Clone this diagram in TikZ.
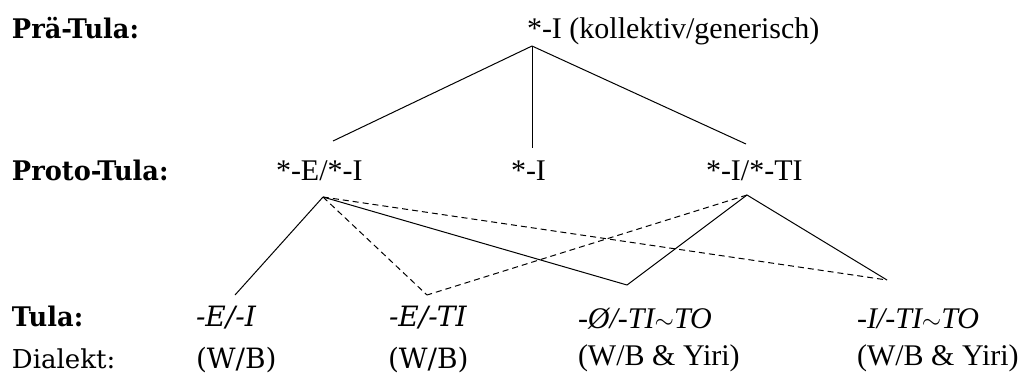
\documentclass[tikz,border=0pt]{standalone}
\usepackage{fontspec}
\setmainfont{Liberation Serif}
\newfontfamily\chfont[FakeStretch=0.95]{DejaVu Serif}
\newfontfamily\chwfont{DejaVu Serif}
\begin{document}
\begin{tikzpicture}[x=1pt,y=-1pt,
  lab/.style={anchor=base west, inner sep=0pt, outer sep=0pt},
  chlab/.style={lab, font=\chwfont\fontsize{26}{30}\selectfont},
  chpar/.style={lab, font=\chwfont\fontsize{28}{32}\selectfont},
  chbold/.style={lab, font=\chfont\bfseries\fontsize{27}{30}\selectfont},
  tmlab/.style={lab, font=\fontsize{30}{34}\selectfont},
  tmit/.style={lab, font=\itshape\fontsize{30}{34}\selectfont},
  chit/.style={lab, font=\chwfont\itshape\fontsize{28}{32}\selectfont},
  solidln/.style={line width=1pt},
  dashln/.style={line width=1pt, dash pattern=on 6pt off 4pt}]
\useasboundingbox (0,0) rectangle (1030,376);
% row labels
\node[chbold] (l1) at (12,38) {Prä-Tula:};
\node[chbold] (l2) at (12,180) {Proto-Tula:};
\node[chbold] (l3) at (12,326) {Tula:};
\node[chlab]  (l4) at (12,368) {Dialekt:};
% level 1
\node[tmlab] (pre) at (527,38) {*-I (kollektiv/generisch)};
% level 2
\node[tmlab] (pa) at (276,180) {*-E/*-I};
\node[tmlab] (pb) at (511,180) {*-I};
\node[tmlab] (pc) at (706,180) {*-I/*-TI};
% level 3
\node[chit] (ta) at (196,326) {-E/-I};
\node[chit] (tb) at (389,326) {-E/-TI};
\node[tmit] (tc) at (578,328) {-Ø/-TI$\sim$TO};
\node[tmit] (td) at (857,328) {-I/-TI$\sim$TO};
% dialects
\node[chpar] (da) at (196,368) {(W/B)};
\node[chpar] (db) at (388,368) {(W/B)};
\node[tmlab] (dc) at (578,365) {(W/B \& Yiri)};
\node[tmlab] (dd) at (857,365) {(W/B \& Yiri)};
% connector points
\coordinate (top) at (532,46);
\coordinate (a1) at (333,141);
\coordinate (b1) at (532,148);
\coordinate (c1) at (746,144);
\coordinate (a2) at (323,197);
\coordinate (c2) at (747,195);
\coordinate (ta1) at (235,295);
\coordinate (tb1) at (427,295);
\coordinate (tc1) at (627,285);
\coordinate (td1) at (887,280);
% upper tree
\draw[solidln] (top) -- (a1);
\draw[solidln] (top) -- (b1);
\draw[solidln] (top) -- (c1);
% lower
\draw[solidln] (a2) -- (ta1);
\draw[dashln] (a2) -- (tb1);
\draw[solidln] (a2) -- (tc1);
\draw[dashln] (a2) -- (td1);
\draw[dashln] (c2) -- (tb1);
\draw[solidln] (c2) -- (tc1);
\draw[solidln] (c2) -- (td1);
\end{tikzpicture}
\end{document}
